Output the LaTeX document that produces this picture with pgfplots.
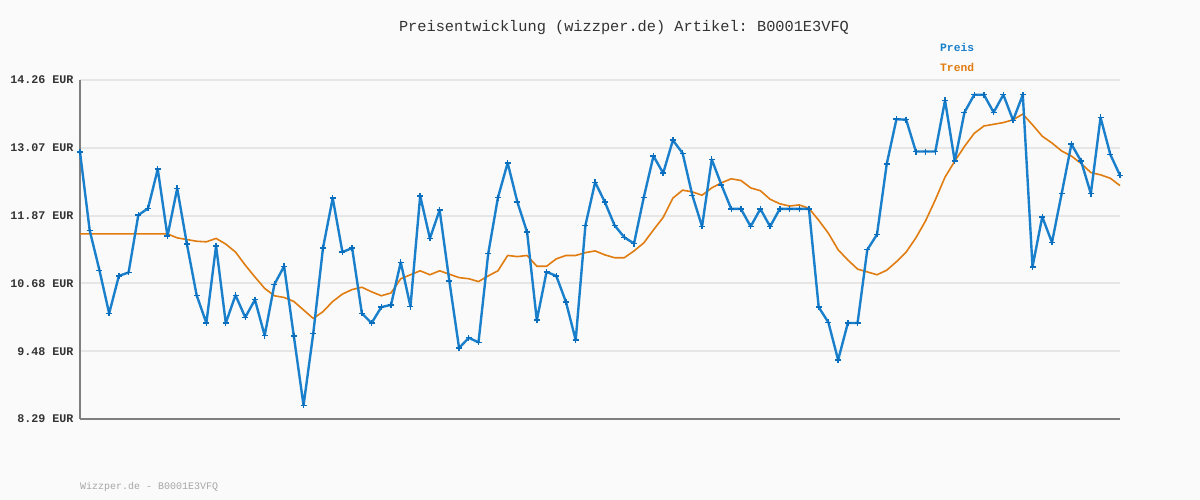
\documentclass[border=0pt]{standalone}
\usepackage{fontspec}
\setmainfont{Liberation Mono}
\setmonofont{Liberation Mono}
\usepackage{pgfplots}
\pgfplotsset{compat=1.18}
\frenchspacing
\definecolor{bg}{HTML}{FAFAFA}
\definecolor{gridc}{HTML}{E6E6E6}
\definecolor{axisc}{HTML}{7F7F7F}
\definecolor{preis}{HTML}{1A80CC}
\definecolor{preismark}{HTML}{0A6EBE}
\definecolor{trend}{HTML}{E07C10}
\definecolor{ticktxt}{HTML}{333333}
\begin{document}
\begin{tikzpicture}[x=1pt,y=1pt]
\fill[bg] (0,0) rectangle (1200,500);
\begin{axis}[
  at={(80pt,81pt)}, anchor=south west,
  width=1040pt, height=339pt, scale only axis,
  xmin=0, xmax=107, ymin=8.29, ymax=14.26,
  axis x line*=bottom, axis y line*=left,
  axis line style={axisc, line width=2pt},
  x axis line style={-}, y axis line style={-},
  xtick=\empty,
  ytick={8.29,9.48,10.68,11.87,13.07,14.26},
  yticklabels={8.29 EUR,9.48 EUR,10.68 EUR,11.87 EUR,13.07 EUR,14.26 EUR},
  yticklabel style={font=\fontsize{11.7}{12}\selectfont\bfseries, text=ticktxt, xshift=-3pt},
  major tick length=0pt,
  ymajorgrids, grid style={gridc, line width=2pt},
  clip=false,
]
\addplot[trend, line width=1.6pt, line join=round] coordinates {
(0,11.55)(1,11.55)(2,11.55)(3,11.55)(4,11.55)(5,11.55)(6,11.55)(7,11.55)(8,11.55)(9,11.55)
(10,11.48)(11,11.45)(12,11.42)(13,11.41)(14,11.47)(15,11.37)(16,11.23)(17,11.00)(18,10.79)(19,10.59)
(20,10.46)(21,10.43)(22,10.36)(23,10.21)(24,10.06)(25,10.18)(26,10.36)(27,10.49)(28,10.57)(29,10.61)
(30,10.53)(31,10.46)(32,10.51)(33,10.76)(34,10.83)(35,10.90)(36,10.83)(37,10.90)(38,10.84)(39,10.78)
(40,10.76)(41,10.71)(42,10.81)(43,10.90)(44,11.17)(45,11.15)(46,11.17)(47,10.98)(48,10.98)(49,11.11)
(50,11.17)(51,11.17)(52,11.22)(53,11.25)(54,11.18)(55,11.13)(56,11.13)(57,11.25)(58,11.39)(59,11.62)
(60,11.84)(61,12.18)(62,12.32)(63,12.29)(64,12.23)(65,12.36)(66,12.45)(67,12.52)(68,12.49)(69,12.36)
(70,12.31)(71,12.16)(72,12.08)(73,12.04)(74,12.06)(75,12.00)(76,11.79)(77,11.56)(78,11.27)(79,11.09)
(80,10.93)(81,10.88)(82,10.83)(83,10.91)(84,11.06)(85,11.23)(86,11.48)(87,11.78)(88,12.15)(89,12.55)
(90,12.83)(91,13.09)(92,13.32)(93,13.45)(94,13.48)(95,13.51)(96,13.56)(97,13.66)(98,13.47)(99,13.27)
(100,13.15)(101,13.01)(102,12.92)(103,12.79)(104,12.63)(105,12.59)(106,12.53)(107,12.40)
};
\addplot[preis, line width=2.4pt, line join=round, mark=+, mark size=3pt,
  mark options={preismark, line width=1.4pt, line cap=butt}] coordinates {
(0,12.99)(1,11.61)(2,10.91)(3,10.15)(4,10.81)(5,10.87)(6,11.88)(7,12.00)(8,12.69)(9,11.51)
(10,12.35)(11,11.37)(12,10.47)(13,9.98)(14,11.34)(15,9.98)(16,10.47)(17,10.08)(18,10.39)(19,9.76)
(20,10.66)(21,10.98)(22,9.75)(23,8.53)(24,9.80)(25,11.30)(26,12.18)(27,11.23)(28,11.30)(29,10.15)
(30,9.98)(31,10.26)(32,10.30)(33,11.05)(34,10.27)(35,12.22)(36,11.47)(37,11.97)(38,10.72)(39,9.54)
(40,9.72)(41,9.64)(42,11.20)(43,12.19)(44,12.80)(45,12.11)(46,11.58)(47,10.03)(48,10.88)(49,10.81)
(50,10.35)(51,9.68)(52,11.70)(53,12.46)(54,12.11)(55,11.70)(56,11.49)(57,11.38)(58,12.19)(59,12.92)
(60,12.62)(61,13.20)(62,12.97)(63,12.23)(64,11.68)(65,12.86)(66,12.41)(67,11.99)(68,11.99)(69,11.68)
(70,11.99)(71,11.68)(72,11.99)(73,11.99)(74,11.99)(75,11.99)(76,10.26)(77,9.99)(78,9.33)(79,9.98)
(80,9.98)(81,11.27)(82,11.54)(83,12.78)(84,13.57)(85,13.56)(86,13.00)(87,13.00)(88,13.00)(89,13.90)
(90,12.83)(91,13.69)(92,14.00)(93,14.00)(94,13.69)(95,14.00)(96,13.55)(97,14.00)(98,10.97)(99,11.85)
(100,11.40)(101,12.26)(102,13.13)(103,12.83)(104,12.26)(105,13.60)(106,12.95)(107,12.58)
};
\end{axis}
\node[font=\fontsize{15.3}{16}\selectfont, text=ticktxt] at (624,472) {Preisentwicklung (wizzper.de) Artikel: B0001E3VFQ};
\node[anchor=west, inner sep=0pt, font=\fontsize{11.3}{12}\selectfont\bfseries, text=preis] at (940,453) {Preis};
\node[anchor=west, inner sep=0pt, font=\fontsize{11.3}{12}\selectfont\bfseries, text=trend] at (940,433) {Trend};
\node[anchor=west, inner sep=0pt, font=\fontsize{10}{11}\selectfont, text=black!35] at (80,13) {Wizzper.de - B0001E3VFQ};
\pgfresetboundingbox
\path (0,0) rectangle (1200,500);
\end{tikzpicture}
\end{document}
